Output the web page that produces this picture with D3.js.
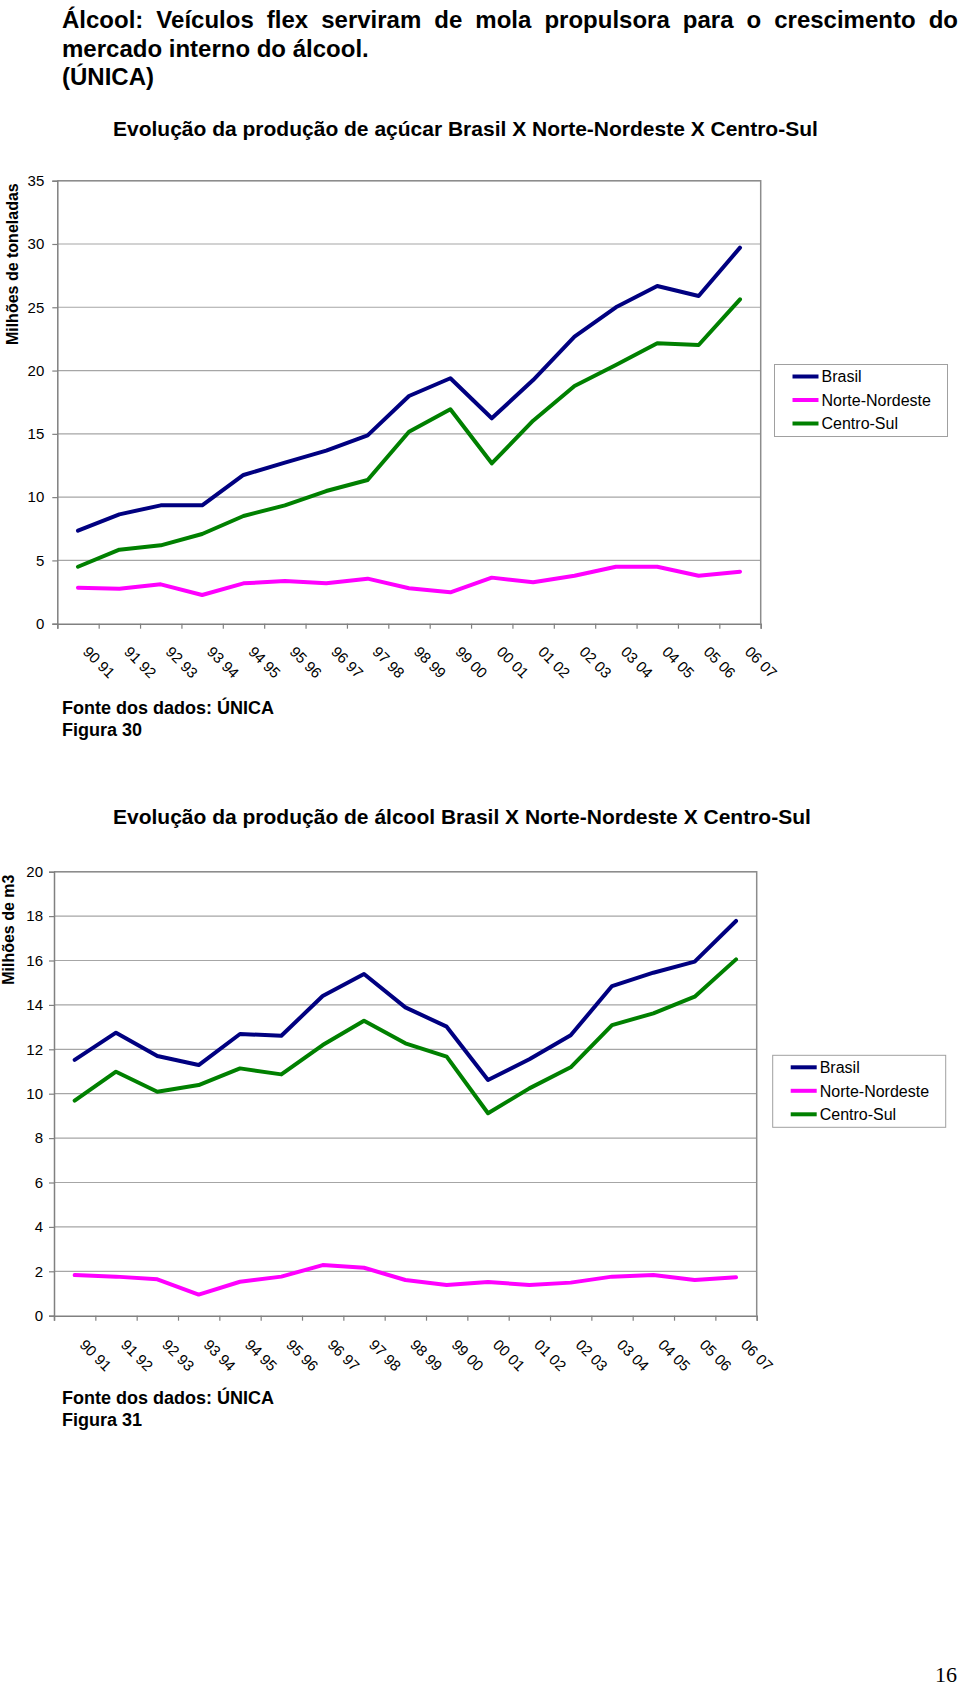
<!DOCTYPE html>
<html>
<head>
<meta charset="utf-8">
<script src="https://cdn.jsdelivr.net/npm/d3@7"></script>
<style>
  html, body { margin: 0; padding: 0; background: #fff; }
  svg { display: block; }
  text { font-family: "Liberation Sans", Arial, Helvetica, sans-serif; fill: #000; }
</style>
</head>
<body>
<script>
// ---------------- DATA ----------------
const categories = ["90 91","91 92","92 93","93 94","94 95","95 96","96 97","97 98","98 99","99 00",
                    "00 01","01 02","02 03","03 04","04 05","05 06","06 07"];
const seriesNames = ["Brasil", "Norte-Nordeste", "Centro-Sul"];

// Figura 30 – sugar production (million tonnes)
const sugarBrasil        = [7.35, 8.64, 9.35, 9.35, 11.75, 12.72, 13.67, 14.88, 17.99, 19.39, 16.23, 19.25, 22.68, 25.0, 26.68, 25.89, 29.71];
const sugarNorteNordeste = [2.85, 2.77, 3.11, 2.27, 3.19, 3.37, 3.19, 3.56, 2.80, 2.48, 3.64, 3.27, 3.79, 4.50, 4.50, 3.79, 4.11];
const sugarCentroSul     = [4.50, 5.85, 6.19, 7.09, 8.51, 9.35, 10.48, 11.35, 15.17, 16.94, 12.67, 16.04, 18.78, 20.44, 22.15, 22.02, 25.63];
const sugarTicks = [0, 5, 10, 15, 20, 25, 30, 35];

// Figura 31 – alcohol production (million m3)
const alcoholBrasil        = [11.52, 12.75, 11.70, 11.29, 12.69, 12.61, 14.40, 15.39, 13.89, 13.02, 10.62, 11.55, 12.63, 14.85, 15.45, 15.95, 17.78];
const alcoholNorteNordeste = [1.83, 1.76, 1.64, 0.95, 1.53, 1.76, 2.28, 2.16, 1.61, 1.38, 1.52, 1.38, 1.49, 1.76, 1.83, 1.61, 1.73];
const alcoholCentroSul     = [9.69, 10.99, 10.09, 10.39, 11.14, 10.87, 12.19, 13.29, 12.27, 11.67, 9.12, 10.24, 11.19, 13.09, 13.62, 14.37, 16.05];
const alcoholTicks = [0, 2, 4, 6, 8, 10, 12, 14, 16, 18, 20];

const colors = { "Brasil": "#000080", "Norte-Nordeste": "#ff00ff", "Centro-Sul": "#008000" };

// ---------------- PAGE ----------------
const W = 960, H = 1687;
const svg = d3.select("body").append("svg").attr("width", W).attr("height", H);
svg.append("rect").attr("width", W).attr("height", H).attr("fill", "#fff");

// Main heading (justified first line)
const heading = [
  "Álcool: Veículos flex serviram de mola propulsora para o crescimento do",
  "mercado interno do álcool.",
  "(ÚNICA)"
];
const headG = svg.append("g");
heading.forEach((t, i) => {
  const tx = headG.append("text")
    .attr("x", 62).attr("y", 28 + i * 28.7)
    .attr("font-size", 24).attr("font-weight", "bold")
    .text(t);
  if (i === 0) {
    const natural = tx.node().getComputedTextLength();
    const spaces = (t.match(/ /g) || []).length;
    const target = 896;
    tx.attr("word-spacing", ((target - natural) / spaces).toFixed(2));
  }
});

function drawChart(cfg) {
  const g = svg.append("g");
  const { left, right, top, bottom } = cfg;

  const x = d3.scaleBand().domain(categories).range([left, right]).padding(0);
  const xb = d3.scaleLinear().domain([0, categories.length]).range([left, right]);
  const y = d3.scaleLinear().domain([cfg.ticks[0], cfg.ticks[cfg.ticks.length - 1]]).range([bottom, top]);

  // title
  g.append("text")
    .attr("x", cfg.titleX).attr("y", cfg.titleY)
    .attr("font-size", 21).attr("font-weight", "bold")
    .text(cfg.title);

  // gridlines
  g.append("g").selectAll("line").data(cfg.ticks.slice(1)).join("line")
    .attr("x1", left).attr("x2", right)
    .attr("y1", d => y(d)).attr("y2", d => y(d))
    .attr("stroke", "#a6a6a6").attr("stroke-width", 1.2);

  // plot frame (top / right)
  g.append("path")
    .attr("d", `M${left},${top}H${right}V${bottom}`)
    .attr("fill", "none").attr("stroke", "#8c8c8c").attr("stroke-width", 1.5);

  // left axis
  const ya = g.append("g").attr("transform", `translate(${left},0)`)
    .call(d3.axisLeft(y).tickValues(cfg.ticks).tickSize(5).tickPadding(cfg.tickPad).tickFormat(d3.format("d")));
  ya.select(".domain").attr("stroke", "#808080").attr("stroke-width", 1.5);
  ya.selectAll(".tick line").attr("stroke", "#808080").attr("stroke-width", 1.2);
  ya.selectAll(".tick text").attr("font-size", 15).attr("fill", "#000")
    .attr("font-family", '"Liberation Sans", Arial, sans-serif');

  // bottom axis: boundary ticks
  const xa = g.append("g").attr("transform", `translate(0,${bottom})`)
    .call(d3.axisBottom(xb).tickValues(d3.range(0, categories.length + 1)).tickSize(5).tickFormat(""));
  xa.select(".domain").attr("stroke", "#808080").attr("stroke-width", 1.5);
  xa.selectAll(".tick line").attr("stroke", "#808080").attr("stroke-width", 1.2);

  // bottom axis: category labels
  const xl = g.append("g").attr("transform", `translate(0,${bottom})`)
    .call(d3.axisBottom(x).tickSize(0).tickPadding(0));
  xl.select(".domain").remove();
  xl.selectAll(".tick text")
    .attr("font-size", 15).attr("fill", "#000")
    .attr("font-family", '"Liberation Sans", Arial, sans-serif')
    .attr("text-anchor", "start")
    .attr("y", 0).attr("dy", 0)
    .attr("transform", `translate(4,${cfg.labelDy}) rotate(45)`);

  // y axis title
  g.append("text")
    .attr("transform", `translate(${cfg.yTitleX},${(top + bottom) / 2 + cfg.yTitleShift}) rotate(-90)`)
    .attr("text-anchor", "middle")
    .attr("font-size", 16).attr("font-weight", "bold")
    .text(cfg.yTitle);

  // lines
  const line = d3.line()
    .x((d, i) => x(categories[i]) + x.bandwidth() / 2)
    .y(d => y(d));
  seriesNames.forEach((name, si) => {
    g.append("path")
      .datum(cfg.series[si])
      .attr("d", line)
      .attr("fill", "none")
      .attr("stroke", colors[name])
      .attr("stroke-width", 4)
      .attr("stroke-linejoin", "round")
      .attr("stroke-linecap", "round");
  });

  // legend
  const lg = g.append("g");
  lg.append("rect")
    .attr("x", cfg.legX).attr("y", cfg.legY)
    .attr("width", 173).attr("height", 72)
    .attr("fill", "#fff").attr("stroke", "#a0a0a0").attr("stroke-width", 1);
  seriesNames.forEach((name, i) => {
    const ly = cfg.legY + 12 + i * 23.5;
    lg.append("line")
      .attr("x1", cfg.legX + 18).attr("x2", cfg.legX + 44)
      .attr("y1", ly).attr("y2", ly)
      .attr("stroke", colors[name]).attr("stroke-width", 4);
    lg.append("text")
      .attr("x", cfg.legX + 47).attr("y", ly).attr("dy", "0.36em")
      .attr("font-size", 16)
      .text(name);
  });

  // footnotes
  cfg.notes.forEach((t, i) => {
    g.append("text")
      .attr("x", 62).attr("y", cfg.noteY + i * 22)
      .attr("font-size", 18).attr("font-weight", "bold")
      .text(t);
  });
}

drawChart({
  title: "Evolução da produção de açúcar Brasil X Norte-Nordeste X Centro-Sul",
  titleX: 113, titleY: 136,
  left: 57.3, right: 760.7, top: 180.7, bottom: 623.7,
  ticks: sugarTicks, tickPad: 8,
  labelDy: 29,
  yTitle: "Milhões de toneladas", yTitleX: 18, yTitleShift: -138,
  series: [sugarBrasil, sugarNorteNordeste, sugarCentroSul],
  legX: 774.5, legY: 364.5,
  notes: ["Fonte dos dados: ÚNICA", "Figura 30"], noteY: 714
});

drawChart({
  title: "Evolução da produção de álcool Brasil X Norte-Nordeste X Centro-Sul",
  titleX: 113, titleY: 824,
  left: 54, right: 756.7, top: 871.7, bottom: 1315.7,
  ticks: alcoholTicks, tickPad: 6,
  labelDy: 30,
  yTitle: "Milhões de m3", yTitleX: 14, yTitleShift: -164,
  series: [alcoholBrasil, alcoholNorteNordeste, alcoholCentroSul],
  legX: 772.7, legY: 1055.3,
  notes: ["Fonte dos dados: ÚNICA", "Figura 31"], noteY: 1404
});

// page number
svg.append("text")
  .attr("x", 957).attr("y", 1682)
  .attr("text-anchor", "end")
  .attr("font-size", 22)
  .style("font-family", '"Liberation Serif", "Times New Roman", serif')
  .text("16");
</script>
</body>
</html>
